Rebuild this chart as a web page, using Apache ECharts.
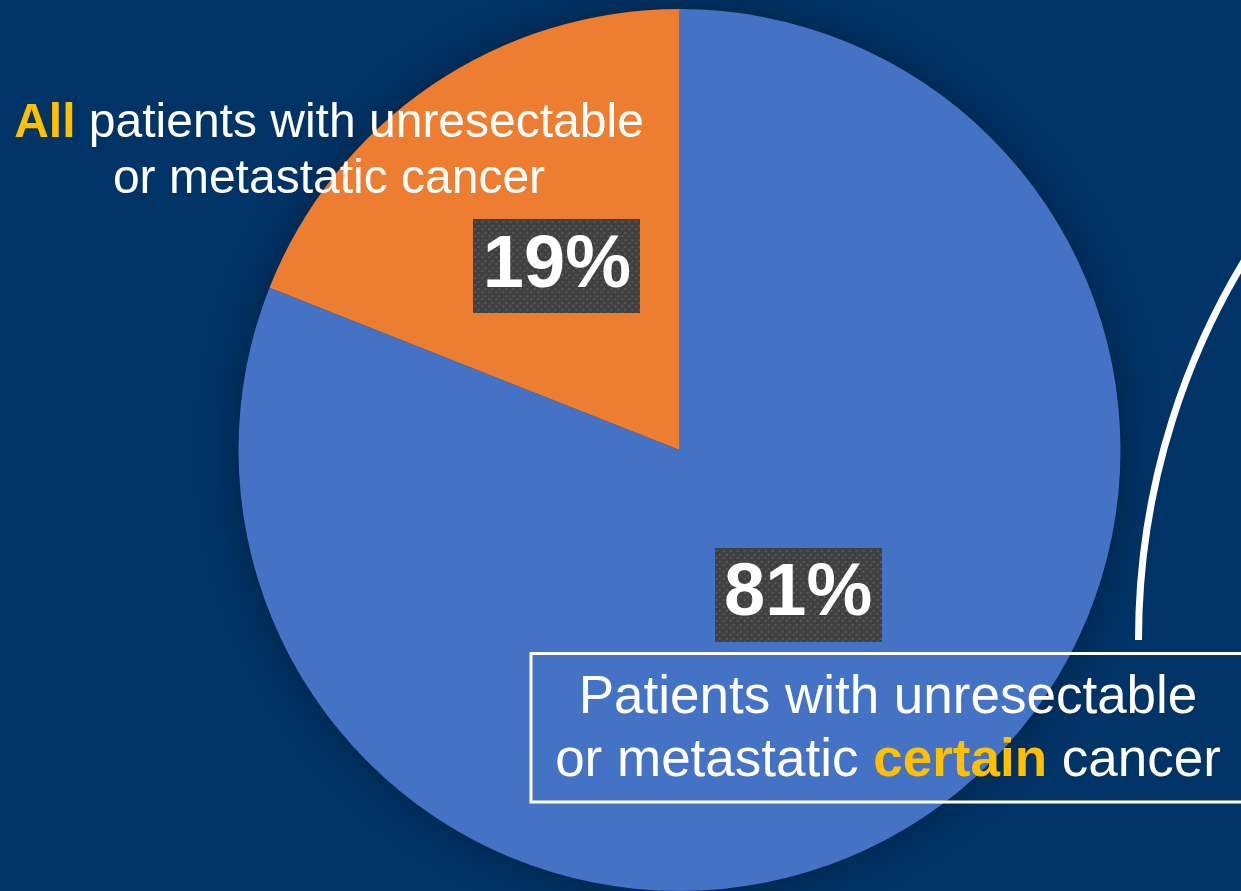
<!DOCTYPE html>
<html>
<head>
<meta charset="utf-8">
<title>Patients with unresectable or metastatic cancer</title>
<script src="https://cdn.jsdelivr.net/npm/echarts@6/dist/echarts.min.js"></script>
<style>
  html, body { margin: 0; padding: 0; background: #003366; }
  #chart { width: 1241px; height: 891px; }
</style>
</head>
<body>
<div id="chart"></div>
<script>
// Share of patients by group (percent)
const categories = ['Patients with unresectable or metastatic certain cancer',
                    'All patients with unresectable or metastatic cancer'];
const shares = [81, 19];
const sliceColors = ['#4472C4', '#ED7D31'];

const FONT = 'Arial, "Liberation Sans", sans-serif';

// Dark dotted tile used behind the percentage labels
function dottedTile(w, h) {
  const c = document.createElement('canvas');
  c.width = w; c.height = h;
  const g = c.getContext('2d');
  g.fillStyle = '#404040';
  g.fillRect(0, 0, w, h);
  g.fillStyle = '#585858';
  for (let y = 2, row = 0; y < h; y += 3.5, row++) {
    for (let x = (row % 2 ? 4 : 1); x < w; x += 7) {
      g.fillRect(Math.round(x), Math.round(y), 2, 2);
    }
  }
  return c;
}
const tile = dottedTile(167, 94);

const chart = echarts.init(document.getElementById('chart'), null, { renderer: 'canvas' });

chart.setOption({
  backgroundColor: '#003366',
  animation: false,
  series: [{
    type: 'pie',
    z: 2,
    center: [679.5, 450],
    radius: 441,
    startAngle: 90,
    clockwise: true,
    avoidLabelOverlap: false,
    silent: true,
    itemStyle: { borderWidth: 0 },
    label: {
      show: true,
      position: 'inside',
      formatter: '{c}%',
      color: '#ffffff',
      fontFamily: FONT,
      fontWeight: 'bold',
      fontSize: 74,
      width: 167,
      height: 90,
      lineHeight: 90,
      padding: [4, 0, 0, 0],
      align: 'center',
      verticalAlign: 'middle',
      backgroundColor: { image: tile },
      shadowColor: 'rgba(0,0,0,0.55)',
      shadowBlur: 6,
      shadowOffsetX: 4,
      shadowOffsetY: 4
    },
    labelLine: { show: false },
    labelLayout: function (p) {
      return p.dataIndex === 0 ? { dx: -7, dy: -40 } : { dx: 3, dy: 1 };
    },
    data: categories.map((name, i) => ({
      name: name,
      value: shares[i],
      itemStyle: { color: sliceColors[i] }
    }))
  }],
  graphic: [
    // soft halo behind the pie
    {
      type: 'circle',
      z: 0,
      silent: true,
      shape: { cx: 679.5, cy: 450, r: 440 },
      style: { fill: '#003366', shadowBlur: 40, shadowColor: 'rgba(0,0,0,0.35)' }
    },
    // caption for the orange slice
    {
      type: 'text',
      z: 100,
      x: 329,
      y: 152,
      style: {
        text: '{y|All} patients with unresectable\nor metastatic cancer',
        fill: '#ffffff',
        font: '48px ' + FONT,
        align: 'center',
        verticalAlign: 'middle',
        lineHeight: 56,
        rich: {
          y: { fill: '#FFC000', fontWeight: 'bold', fontSize: 48, fontFamily: FONT, lineHeight: 56 }
        }
      }
    },
    // framed caption for the blue slice
    {
      type: 'rect',
      z: 100,
      silent: true,
      shape: { x: 531, y: 653.5, width: 740, height: 148.5 },
      style: { fill: 'none', stroke: '#ffffff', lineWidth: 3 }
    },
    {
      type: 'text',
      z: 101,
      x: 888,
      y: 730,
      style: {
        text: 'Patients with unresectable\nor metastatic {y|certain} cancer',
        fill: '#ffffff',
        font: '53px ' + FONT,
        align: 'center',
        verticalAlign: 'middle',
        lineHeight: 63,
        rich: {
          y: { fill: '#FFC000', fontWeight: 'bold', fontSize: 53, fontFamily: FONT, lineHeight: 63 }
        }
      }
    },
    // connector arc on the right
    {
      type: 'arc',
      z: 100,
      silent: true,
      shape: {
        cx: 1870.5, cy: 640, r: 732,
        startAngle: Math.PI, endAngle: Math.PI * 215 / 180, clockwise: true
      },
      style: { stroke: '#ffffff', lineWidth: 7, fill: 'none', lineCap: 'butt' }
    }
  ]
});
</script>
</body>
</html>
